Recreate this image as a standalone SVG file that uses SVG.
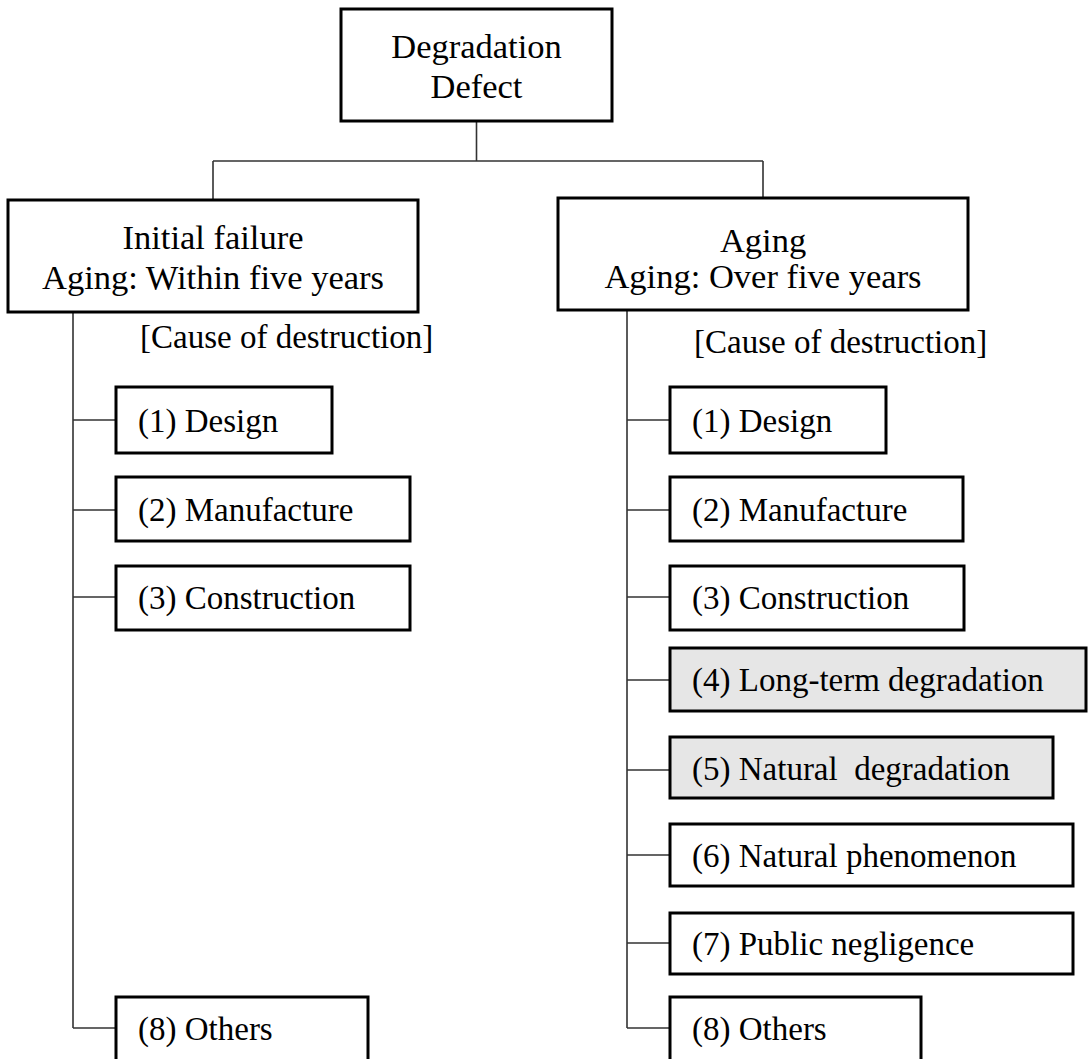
<svg xmlns="http://www.w3.org/2000/svg" width="1089" height="1059" viewBox="0 0 1089 1059">
<style>
.box{fill:#ffffff;stroke:#000000;stroke-width:3}
.gbox{fill:#e6e6e6;stroke:#000000;stroke-width:3}
.hd{font-family:"Liberation Serif","Times New Roman",serif;font-size:34.5px;fill:#000000;text-anchor:middle}
.tx{font-family:"Liberation Serif","Times New Roman",serif;font-size:33px;fill:#000000;white-space:pre}
.con{fill:none;stroke:#333333;stroke-width:1.6}
</style>
<rect width="1089" height="1059" fill="#ffffff"/>
<g id="connectors">
<path class="con" d="M476.5 121 V161 M213 161 H763 M213 161 V200 M763 161 V198"/>
<path class="con" d="M73 312 V1028 M73 420 H116 M73 510 H116 M73 597 H116 M73 1028 H116"/>
<path class="con" d="M627 310 V1028 M627 420 H670 M627 510 H670 M627 597 H670 M627 680 H670 M627 770 H670 M627 855 H670 M627 943 H670 M627 1028 H670"/>
</g>
<g id="root">
<rect class="box" x="341" y="9" width="271" height="112"/>
<text class="hd" x="476.5" y="58">Degradation</text>
<text class="hd" x="476.5" y="98">Defect</text>
</g>
<g id="initial">
<rect class="box" x="8" y="200" width="410" height="112"/>
<text class="hd" x="213" y="249">Initial failure</text>
<text class="hd" x="213" y="289">Aging: Within five years</text>
</g>
<g id="aging">
<rect class="box" x="558" y="198" width="410" height="112"/>
<text class="hd" x="763" y="252">Aging</text>
<text class="hd" x="763" y="288">Aging: Over five years</text>
</g>
<g id="cause-left"><text class="tx" x="140" y="348">[Cause of destruction]</text></g>
<g id="cause-right"><text class="tx" x="694" y="353">[Cause of destruction]</text></g>
<g id="l1"><rect class="box" x="116" y="387" width="216" height="66"/><text class="tx" x="138" y="432">(1) Design</text></g>
<g id="l2"><rect class="box" x="116" y="477" width="294" height="64"/><text class="tx" x="138" y="521">(2) Manufacture</text></g>
<g id="l3"><rect class="box" x="116" y="566" width="294" height="64"/><text class="tx" x="138" y="609">(3) Construction</text></g>
<g id="l8"><rect class="box" x="116" y="997" width="252" height="70"/><text class="tx" x="138" y="1040">(8) Others</text></g>
<g id="r1"><rect class="box" x="670" y="387" width="216" height="66"/><text class="tx" x="692" y="432">(1) Design</text></g>
<g id="r2"><rect class="box" x="670" y="477" width="293" height="64"/><text class="tx" x="692" y="521">(2) Manufacture</text></g>
<g id="r3"><rect class="box" x="670" y="566" width="294" height="64"/><text class="tx" x="692" y="609">(3) Construction</text></g>
<g id="r4"><rect class="gbox" x="670" y="648" width="416" height="63"/><text class="tx" x="692" y="691">(4) Long-term degradation</text></g>
<g id="r5"><rect class="gbox" x="670" y="737" width="383" height="61"/><text class="tx" x="692" y="780">(5) Natural  degradation</text></g>
<g id="r6"><rect class="box" x="670" y="824" width="403" height="62"/><text class="tx" x="692" y="867">(6) Natural phenomenon</text></g>
<g id="r7"><rect class="box" x="670" y="913" width="403" height="61"/><text class="tx" x="692" y="955">(7) Public negligence</text></g>
<g id="r8"><rect class="box" x="670" y="997" width="251" height="70"/><text class="tx" x="692" y="1040">(8) Others</text></g>
</svg>
